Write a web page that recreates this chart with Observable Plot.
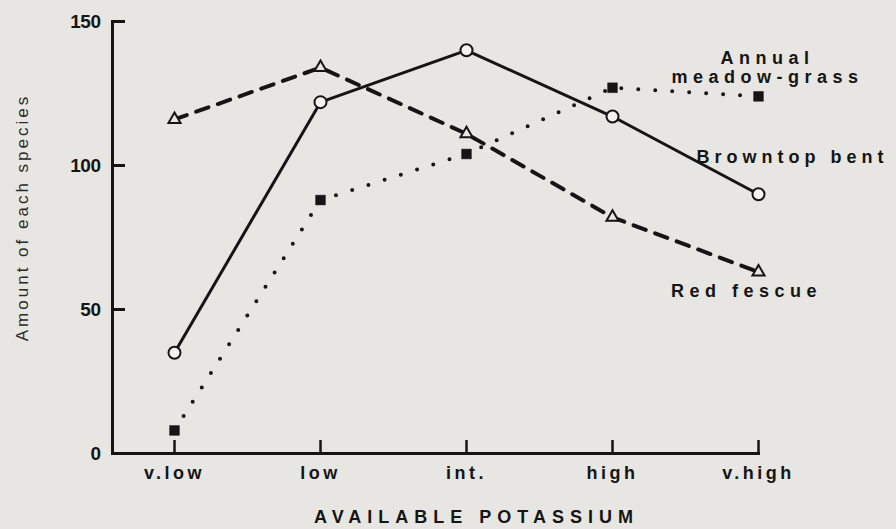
<!DOCTYPE html>
<html>
<head>
<meta charset="utf-8">
<script src="https://cdn.jsdelivr.net/npm/d3@7"></script>
<script src="https://cdn.jsdelivr.net/npm/@observablehq/plot@0.6"></script>
<style>
  html, body { margin: 0; padding: 0; background: #e8e6e2; }
  #chart svg { display: block; }
  g[aria-label="x-axis tick label"] text { letter-spacing: 3.5px; }
  g[aria-label="y-axis tick label"] text { letter-spacing: -0.5px; }
</style>
</head>
<body>
<div id="chart"></div>
<script>
const categories = ["v.low", "low", "int.", "high", "v.high"];
const browntopBent = [35, 122, 140, 117, 90];
const redFescue = [116, 134, 111, 82, 63];
const annualMeadowGrass = [8, 88, 104, 127, 124];
const yTicks = [0, 50, 100, 150];
const xTitle = "AVAILABLE POTASSIUM";
const yTitle = "Amount of each species";
const seriesNames = ["Browntop bent", "Red fescue", "Annual\nmeadow-grass"];

const rows = (vals) => categories.map((c, i) => ({level: c, value: vals[i]}));
const bt = rows(browntopBent);
const rf = rows(redFescue);
const mg = rows(annualMeadowGrass);
const ink = "#151515";
const paper = "#e8e6e2";
const last = categories.length - 1;

const chart = Plot.plot({
  width: 896,
  height: 529,
  marginLeft: 112,
  marginRight: 138,
  marginTop: 21,
  marginBottom: 76,
  style: {background: "transparent", fontFamily: "'Liberation Sans', Arial, sans-serif", color: ink},
  x: {type: "point", domain: categories, padding: 0.2, align: 1},
  y: {domain: [0, 150]},
  marks: [
    // axes
    Plot.axisY({ticks: yTicks, tickSize: 0, tickPadding: 12, fontSize: 19, fontWeight: "bold", label: null}),
    Plot.axisY({ticks: yTicks, tickSize: -13, text: null, strokeWidth: 3, label: null}),
    Plot.axisX({tickSize: 0, tickPadding: 13, fontSize: 18, fontWeight: "bold", label: null}),
    Plot.axisX({tickSize: -13, text: null, strokeWidth: 2.5, label: null}),
    Plot.frame({anchor: "left", stroke: ink, strokeWidth: 3}),
    Plot.frame({anchor: "bottom", stroke: ink, strokeWidth: 3}),
    // lines
    Plot.line(rf, {x: "level", y: "value", stroke: ink, strokeWidth: 4, strokeDasharray: "13 10"}),
    Plot.line(mg, {x: "level", y: "value", stroke: ink, strokeWidth: 4, strokeDasharray: "0 17", strokeLinecap: "round"}),
    Plot.line(bt, {x: "level", y: "value", stroke: ink, strokeWidth: 3}),
    // markers
    Plot.dot(rf, {x: "level", y: "value", symbol: "triangle", r: 4.5, fill: paper, stroke: ink, strokeWidth: 2}),
    Plot.dot(mg, {x: "level", y: "value", symbol: "square", r: 5.5, fill: ink, stroke: ink, strokeWidth: 0.5}),
    Plot.dot(bt, {x: "level", y: "value", symbol: "circle", r: 6, fill: "#f4f3f0", stroke: ink, strokeWidth: 2}),
    // series labels
    Plot.text([seriesNames[0]], {x: () => categories[last], y: () => browntopBent[last], text: d => d, dx: 34, dy: -37, fontSize: 18, fontWeight: "bold", fill: ink}),
    Plot.text([seriesNames[1]], {x: () => categories[last], y: () => redFescue[last], text: d => d, dx: -12, dy: 19, fontSize: 18, fontWeight: "bold", fill: ink}),
    Plot.text([seriesNames[2]], {x: () => categories[last], y: () => annualMeadowGrass[last], text: d => d, dx: 9, dy: -29, fontSize: 18, lineHeight: 1.05, fontWeight: "bold", fill: ink}),
    // axis titles
    Plot.text([xTitle], {frameAnchor: "bottom", textAnchor: "middle", lineAnchor: "middle", text: d => d, dx: 41, dy: 64, fontSize: 18, fontWeight: "bold", fill: ink}),
    Plot.text([yTitle], {frameAnchor: "left", textAnchor: "middle", lineAnchor: "middle", text: d => d, rotate: -90, dx: -90, dy: -20, fontSize: 17, fill: "#2a2a2a"})
  ]
});

// letter spacing of the wide, spaced-out lettering of the original
const spacing = new Map([
  [xTitle, "6px"],
  [yTitle, "3px"],
  ["Browntop bent", "5px"],
  ["Red fescue", "5.5px"],
  ["Annualmeadow-grass", "5.5px"]
]);
d3.select(chart).selectAll("text").each(function () {
  const s = spacing.get(this.textContent);
  if (s) this.style.letterSpacing = s;
});
document.getElementById("chart").appendChild(chart);
</script>
</body>
</html>
